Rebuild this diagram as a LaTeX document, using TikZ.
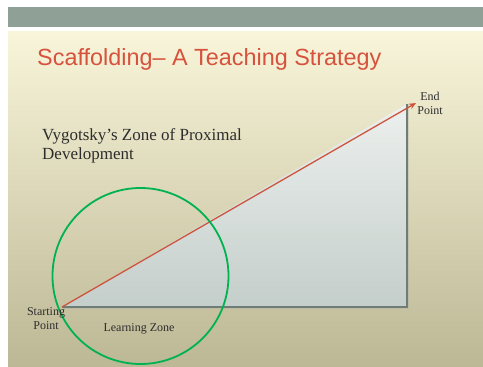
\documentclass[tikz,border=0pt]{standalone}
\usepackage{fontspec}
\setmainfont{Liberation Serif}
\newfontfamily\titlefont{Liberation Sans}
\usetikzlibrary{arrows.meta,calc}
\definecolor{band}{RGB}{143,160,150}
\definecolor{creamtop}{RGB}{249,245,218}
\definecolor{creambot}{RGB}{188,183,148}
\definecolor{titlered}{RGB}{214,82,60}
\definecolor{arrred}{RGB}{205,85,62}
\definecolor{trilight}{RGB}{236,240,238}
\definecolor{tridark}{RGB}{196,206,202}
\definecolor{triline}{RGB}{110,125,118}
\definecolor{zonegreen}{RGB}{0,178,80}
\definecolor{txt}{RGB}{45,45,45}
\tikzset{
  lbl/.style={font=\fontsize{12}{14}\selectfont, text=txt, align=center, inner sep=0pt},
  edge/.style={draw=triline, line width=1.2pt},
}
\begin{document}
\begin{tikzpicture}[x=1pt,y=-1pt]
\useasboundingbox (0,0) rectangle (483,367);
\fill[white] (0,0) rectangle (483,367);
\fill[band] (8,7) rectangle (483,27);
\shade[top color=creamtop, bottom color=creambot] (8,31) rectangle (483,367);
\node[anchor=base west, inner sep=0pt, text=titlered, font=\titlefont\fontsize{23.4}{28}\selectfont] (title) at (37,65) {Scaffolding– A Teaching Strategy};
\node[anchor=base west, inner sep=0pt, text=txt, align=left, font=\fontsize{17}{19}\selectfont] (vyg) at (42,159) {Vygotsky’s Zone of Proximal\\Development};
\coordinate (S) at (62,307);
\coordinate (BR) at (407,307);
\coordinate (TR) at (407,104);
\coordinate (E) at (416,103);
\fill[black!35, opacity=0.5] ($(S)+(1,1.5)$) -- ($(BR)+(1.5,1.5)$) -- ($(TR)+(1.5,0)$) -- cycle;
\shade[top color=trilight, bottom color=tridark] (S) -- (BR) -- (TR) -- cycle;
\draw[edge] (S) -- (BR) -- (TR);
\draw[arrred, line width=1.3pt, -{Stealth[length=7pt,width=6pt]}] (S) -- (E);
\node[draw=zonegreen, line width=1.8pt, circle, minimum size=176pt, inner sep=0pt] (zone) at (140.5,276) {};
\node[lbl, anchor=base] (start) at (46,329) {Starting\\Point};
\node[lbl, anchor=base] (learn) at (139,331.5) {Learning Zone};
\node[lbl, anchor=base] (end) at (430,114) {End\\Point};
\end{tikzpicture}
\end{document}
